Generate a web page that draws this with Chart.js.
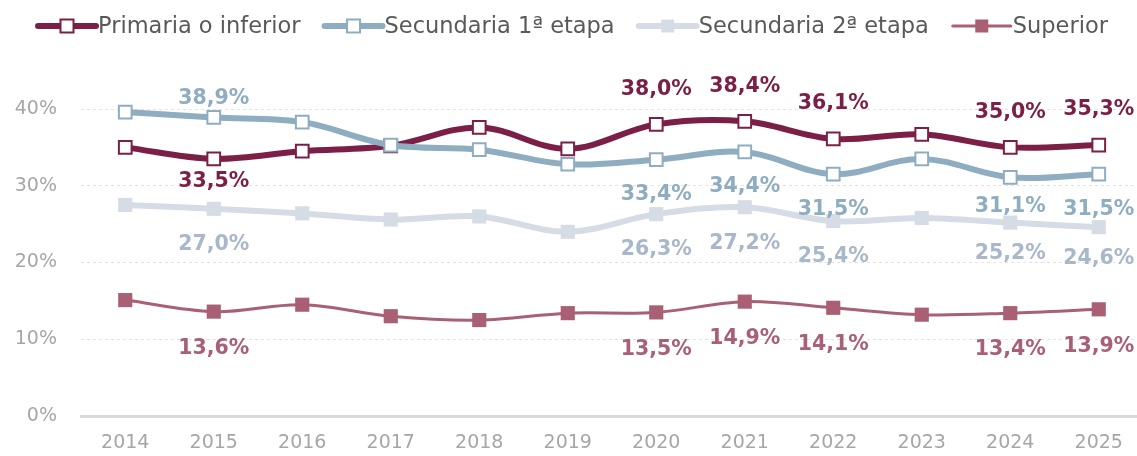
<!DOCTYPE html>
<html>
<head>
<meta charset="utf-8">
<script src="https://cdn.jsdelivr.net/npm/chart.js@4"></script>
<style>
  html, body { margin: 0; padding: 0; background: #ffffff; overflow: hidden; }
  #wrap { position: absolute; left: 0; top: 0; width: 1143px; height: 456px; }
</style>
</head>
<body>
<div id="wrap"><canvas id="eduChart" width="1143" height="456"></canvas></div>
<script>
// datos (porcentaje)
const years = ['2014', '2015', '2016', '2017', '2018', '2019', '2020', '2021', '2022', '2023', '2024', '2025'];
const primaria = [35.0, 33.5, 34.5, 35.2, 37.6, 34.8, 38.0, 38.4, 36.1, 36.7, 35.0, 35.3];
const secundaria1 = [39.6, 38.9, 38.3, 35.3, 34.7, 32.8, 33.4, 34.4, 31.5, 33.5, 31.1, 31.5];
const secundaria2 = [27.5, 27.0, 26.4, 25.6, 26.0, 24.0, 26.3, 27.2, 25.4, 25.8, 25.2, 24.6];
const superior = [15.1, 13.6, 14.5, 13.0, 12.5, 13.4, 13.5, 14.9, 14.1, 13.2, 13.4, 13.9];
const yTicks = [0, 10, 20, 30, 40];
const labelYears = ['2015', '2020', '2021', '2022', '2024', '2025'];

const FONT = '"DejaVu Sans", sans-serif';

function fmt(v) {
    return v.toFixed(1).replace('.', ',') + '%';
}

// etiquetas de valor (como en Excel)
const valueLabels = {
    id: 'valueLabels',
    afterDatasetsDraw(chart) {
        const ctx = chart.ctx;
        ctx.save();
        ctx.font = 'bold 20.5px ' + FONT;
        ctx.textAlign = 'center';
        ctx.textBaseline = 'middle';
        chart.data.datasets.forEach((ds, di) => {
            const meta = chart.getDatasetMeta(di);
            labelYears.forEach(yr => {
                const i = years.indexOf(yr);
                const pt = meta.data[i];
                const off = ds.labelOffset[yr] !== undefined ? ds.labelOffset[yr] : ds.labelOffset.def;
                ctx.fillStyle = ds.labelColor;
                ctx.fillText(fmt(ds.data[i]), pt.x, pt.y + off);
            });
        });
        ctx.restore();
    }
};

// leyenda propia: línea + marcador cuadrado
const lineLegend = {
    id: 'lineLegend',
    afterDraw(chart) {
        const ctx = chart.ctx;
        const y = 26;
        let x = 38;
        ctx.save();
        ctx.font = '22.5px ' + FONT;
        ctx.textBaseline = 'middle';
        chart.data.datasets.forEach(ds => {
            ctx.strokeStyle = ds.borderColor;
            ctx.lineWidth = ds.borderWidth;
            ctx.lineCap = 'round';
            ctx.beginPath();
            ctx.moveTo(x, y);
            ctx.lineTo(x + 58, y);
            ctx.stroke();
            const s = 13;
            ctx.fillStyle = ds.pointBackgroundColor;
            ctx.fillRect(x + 29 - s / 2, y - s / 2, s, s);
            if (ds.pointBorderWidth > 0) {
                ctx.lineWidth = ds.pointBorderWidth;
                ctx.strokeStyle = ds.pointBorderColor;
                ctx.strokeRect(x + 29 - s / 2, y - s / 2, s, s);
            }
            x += 60;
            ctx.fillStyle = '#595959';
            ctx.textAlign = 'left';
            ctx.fillText(ds.label, x, y + 1);
            x += ctx.measureText(ds.label).width + 24;
        });
        ctx.restore();
    }
};

const ctx = document.getElementById('eduChart').getContext('2d');

new Chart(ctx, {
    type: 'line',
    data: {
        labels: years,
        datasets: [
            {
                label: 'Primaria o inferior',
                data: primaria,
                borderColor: '#7B1F47',
                borderWidth: 6,
                pointStyle: 'rect',
                pointRadius: 9,
                pointBackgroundColor: '#ffffff',
                pointBorderColor: '#7B1F47',
                pointBorderWidth: 2,
                labelColor: '#7B1F47',
                labelOffset: { def: -35, '2015': 23 },
                order: 3
            },
            {
                label: 'Secundaria 1ª etapa',
                data: secundaria1,
                borderColor: '#8EADC0',
                borderWidth: 6,
                pointStyle: 'rect',
                pointRadius: 9,
                pointBackgroundColor: '#ffffff',
                pointBorderColor: '#8EADC0',
                pointBorderWidth: 2,
                labelColor: '#8EADC0',
                labelOffset: { def: 35, '2015': -19, '2024': 29 },
                order: 2
            },
            {
                label: 'Secundaria 2ª etapa',
                data: secundaria2,
                borderColor: '#D6DCE5',
                borderWidth: 6,
                pointStyle: 'rect',
                pointRadius: 10,
                pointBackgroundColor: '#D6DCE5',
                pointBorderColor: '#D6DCE5',
                pointBorderWidth: 0,
                labelColor: '#A9B7CA',
                labelOffset: { def: 36, '2024': 31, '2025': 31 },
                order: 1
            },
            {
                label: 'Superior',
                data: superior,
                borderColor: '#A95F74',
                borderWidth: 3,
                pointStyle: 'rect',
                pointRadius: 10,
                pointBackgroundColor: '#A95F74',
                pointBorderColor: '#A95F74',
                pointBorderWidth: 0,
                labelColor: '#A95F74',
                labelOffset: { def: 37 },
                order: 0
            }
        ]
    },
    options: {
        responsive: false,
        animation: false,
        clip: false,
        layout: { autoPadding: false, padding: { top: 109, left: 0, right: 0, bottom: 0 } },
        elements: {
            line: { tension: 0.35, capBezierPoints: true },
            point: { hoverRadius: 9 }
        },
        plugins: {
            legend: { display: false },
            tooltip: { enabled: false }
        },
        scales: {
            x: {
                offset: true,
                grid: { display: false, drawTicks: false },
                border: { display: true, color: '#D9D9D9', width: 3 },
                ticks: {
                    color: '#A6A6A6',
                    padding: 16,
                    maxRotation: 0,
                    font: { family: FONT, size: 19 }
                },
                afterFit: scale => { scale.height = 40; }
            },
            y: {
                min: 0,
                max: 40,
                afterBuildTicks: scale => { scale.ticks = yTicks.map(v => ({ value: v })); },
                grid: {
                    drawTicks: false,
                    color: c => (c.tick && c.tick.value === 0) ? 'rgba(0,0,0,0)' : '#E3E3E3',
                    lineWidth: 1
                },
                border: { display: false, dash: [3, 3] },
                ticks: {
                    color: '#A6A6A6',
                    padding: 24,
                    font: { family: FONT, size: 19 },
                    callback: v => v + '%'
                },
                afterFit: scale => { scale.width = 81; }
            }
        }
    },
    plugins: [valueLabels, lineLegend]
});
</script>
</body>
</html>
